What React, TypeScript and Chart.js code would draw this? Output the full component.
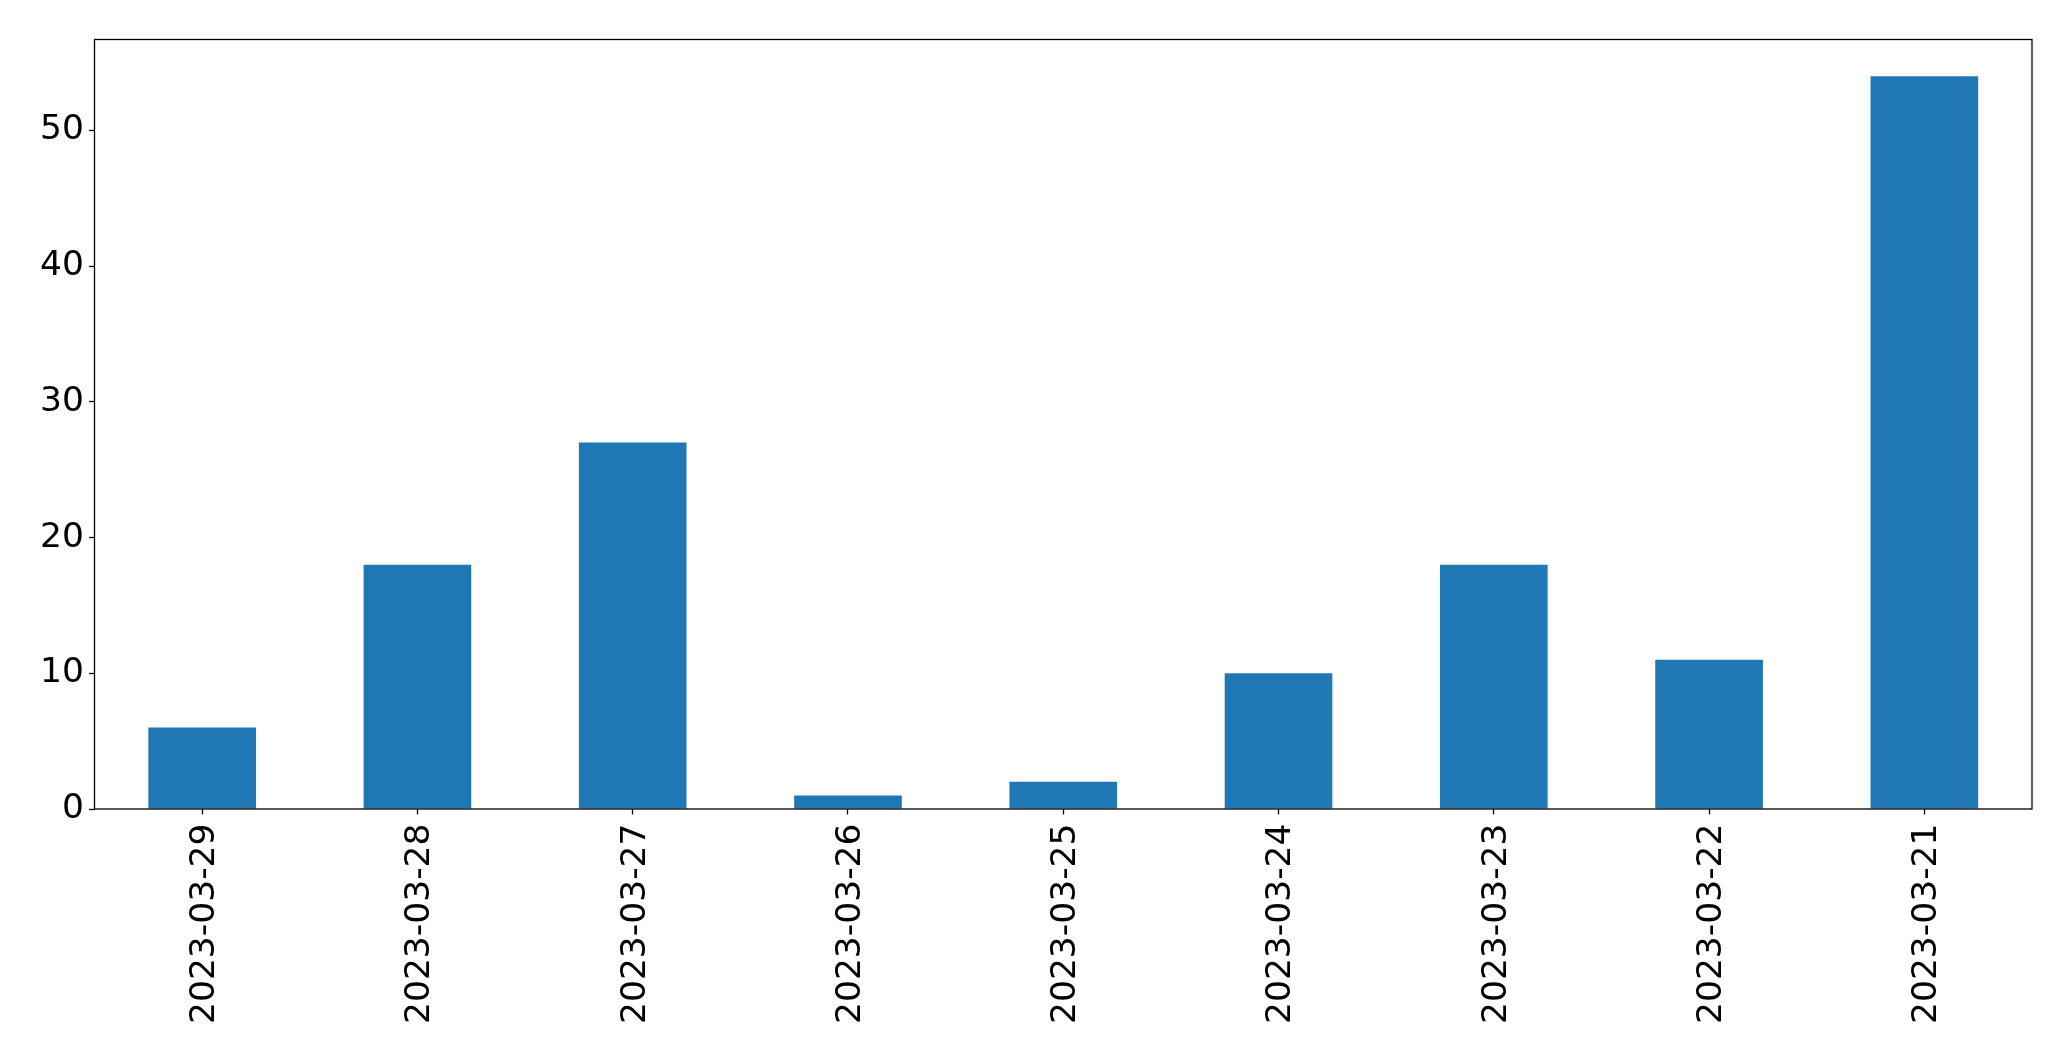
import React, { useEffect, useRef } from "react";
import { Chart, registerables } from "chart.js";

Chart.register(...registerables);

const categories = [
  "2023-03-29",
  "2023-03-28",
  "2023-03-27",
  "2023-03-26",
  "2023-03-25",
  "2023-03-24",
  "2023-03-23",
  "2023-03-22",
  "2023-03-21",
];
const counts = [6, 18, 27, 1, 2, 10, 18, 11, 54];
const yTicks = [0, 10, 20, 30, 40, 50];
const yMax = 56.7;

const W = 2071;
const H = 1061;

const frame = {
  id: "frame",
  afterDatasetsDraw(chart: any) {
    const { ctx, chartArea } = chart;
    ctx.save();
    ctx.strokeStyle = "#000";
    ctx.lineWidth = 1.3;
    ctx.strokeRect(
      chartArea.left,
      chartArea.top,
      chartArea.right - chartArea.left,
      chartArea.bottom - chartArea.top
    );
    ctx.restore();
  },
};

export default function App() {
  const ref = useRef<HTMLCanvasElement | null>(null);
  useEffect(() => {
    document.body.style.margin = "0";
    const font = { family: "DejaVu Sans", size: 34.5 };
    const chart = new Chart(ref.current as HTMLCanvasElement, {
      type: "bar",
      data: {
        labels: categories,
        datasets: [
          {
            data: counts,
            backgroundColor: "#1f77b4",
            borderWidth: 0,
            barPercentage: 0.5,
            categoryPercentage: 1,
          },
        ],
      },
      plugins: [frame],
      options: {
        animation: false,
        responsive: false,
        devicePixelRatio: 1,
        layout: { padding: { left: 0, top: 39.5, right: 39, bottom: 0 } },
        plugins: { legend: { display: false }, tooltip: { enabled: false } },
        scales: {
          x: {
            grid: {
              display: true,
              drawOnChartArea: false,
              drawTicks: true,
              tickLength: 5.5,
              tickColor: "#000",
              tickWidth: 1.3,
              offset: false,
            },
            border: { display: false },
            ticks: {
              color: "#000",
              font,
              minRotation: 90,
              maxRotation: 90,
              padding: 9,
              labelOffset: 3,
              autoSkip: false,
            },
            afterFit(scale: any) {
              scale.height = 252;
            },
          },
          y: {
            min: 0,
            max: yMax,
            grid: {
              display: true,
              drawOnChartArea: false,
              drawTicks: true,
              tickLength: 5.5,
              tickColor: "#000",
              tickWidth: 1.3,
            },
            border: { display: false },
            ticks: { color: "#000", font, padding: 5 },
            afterBuildTicks(scale: any) {
              scale.ticks = yTicks.map((v) => ({ value: v }));
            },
            afterFit(scale: any) {
              scale.width = 94.5;
            },
          },
        },
      },
    });
    return () => chart.destroy();
  }, []);
  return (
    <div style={{ position: "absolute", left: 0, top: 0, width: W, height: H, background: "#fff" }}>
      <canvas ref={ref} width={W} height={H} style={{ width: W, height: H, display: "block" }} />
    </div>
  );
}
